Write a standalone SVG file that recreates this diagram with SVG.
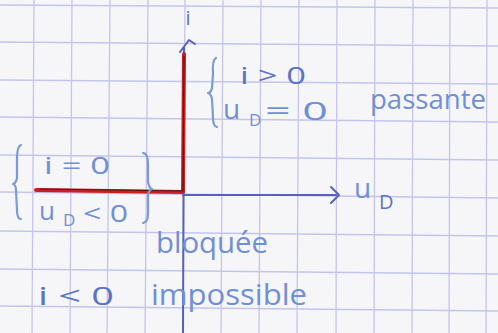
<svg xmlns="http://www.w3.org/2000/svg" width="498" height="333" viewBox="0 0 498 333">
  <style>
    .grid line { stroke: #c4c4ee; stroke-width: 1.3; }
    .pen { fill: #6f8fd6; font-family: "Open Sans", "Liberation Sans", sans-serif; }
    .pen2 { fill: #5a74c8; font-family: "Open Sans", "Liberation Sans", sans-serif; }
    .brace { fill: none; stroke: #7b9ad8; stroke-width: 2.2; stroke-linecap: round; stroke-linejoin: round; }
    .axis { fill: none; stroke: #5561bd; stroke-width: 2; stroke-linecap: round; stroke-linejoin: round; }
    .red { fill: none; stroke: #cc1f1f; stroke-width: 4; stroke-linecap: round; stroke-linejoin: round; }
    .redcore { fill: none; stroke: #5a1818; stroke-width: 1.2; stroke-linecap: round; stroke-linejoin: round; }
  </style>
  <rect x="0" y="0" width="498" height="333" fill="#f6f6f8"/>
  <g id="grid" class="grid">
    <line x1="0" y1="5" x2="498" y2="8"/>
    <line x1="0" y1="42" x2="498" y2="46"/>
    <line x1="0" y1="80" x2="498" y2="84"/>
    <line x1="0" y1="117" x2="498" y2="122"/>
    <line x1="0" y1="155" x2="498" y2="160"/>
    <line x1="0" y1="192" x2="498" y2="198"/>
    <line x1="0" y1="231" x2="498" y2="236"/>
    <line x1="0" y1="269" x2="498" y2="274"/>
    <line x1="0" y1="306" x2="498" y2="311"/>
    <line x1="34" y1="0" x2="32" y2="333"/>
    <line x1="72" y1="0" x2="70" y2="333"/>
    <line x1="110" y1="0" x2="107" y2="333"/>
    <line x1="148" y1="0" x2="145" y2="333"/>
    <line x1="185" y1="0" x2="183" y2="333"/>
    <line x1="223" y1="0" x2="221" y2="333"/>
    <line x1="261" y1="0" x2="259" y2="333"/>
    <line x1="299" y1="0" x2="297" y2="333"/>
    <line x1="337" y1="0" x2="336" y2="333"/>
    <line x1="375" y1="0" x2="374" y2="333"/>
    <line x1="413" y1="0" x2="412" y2="333"/>
    <line x1="450" y1="0" x2="449" y2="333"/>
    <line x1="487" y1="0" x2="486" y2="333"/>
  </g>
  <g id="connectors">
    <path class="axis" d="M184,48 L183,333"/>
    <path class="axis" d="M180,52 L189,40 L195,44"/>
    <path class="axis" d="M183,195 L336,195"/>
    <path class="axis" d="M331,187 L339,195 L331,203"/>
    <path class="red" d="M184,54 L183,192 L36,190"/>
    <path class="redcore" d="M184,56 L183,191 L40,189"/>
  </g>
  <g id="axis-i">
    <text class="pen2" x="188" y="25" font-size="20" text-anchor="middle">i</text>
  </g>
  <g id="axis-uD">
    <text class="pen" x="354" y="198" font-size="28">u</text>
    <text class="pen2" x="379" y="209" font-size="20">D</text>
  </g>
  <g id="passante">
    <path class="brace" d="M216,58 Q212,60 213,74 L212,88 Q211,93 208,93 Q211,94 212,99 L213,118 Q213,126 217,127"/>
    <text class="pen2" x="240" y="84" font-size="24" textLength="66" lengthAdjust="spacingAndGlyphs">i &gt; 0</text>
    <text class="pen" x="223" y="119" font-size="28">u</text>
    <text class="pen" x="249" y="126" font-size="17">D</text>
    <text class="pen" x="265" y="120" font-size="26" textLength="63" lengthAdjust="spacingAndGlyphs">= 0</text>
    <text class="pen" x="370" y="109" font-size="27" textLength="116" lengthAdjust="spacingAndGlyphs">passante</text>
  </g>
  <g id="bloquee">
    <path class="brace" d="M21,145 Q17,146 17,160 L17,178 Q16,183 13,184 Q16,185 16,190 L17,210 Q17,219 21,219"/>
    <path class="brace" d="M143,153 Q148,153 148,165 L148,182 Q149,188 152,189 Q149,190 148,195 L148,214 Q148,222 143,223"/>
    <text class="pen" x="44" y="174" font-size="24" textLength="66" lengthAdjust="spacingAndGlyphs">i = 0</text>
    <text class="pen" x="39" y="220" font-size="26">u</text>
    <text class="pen" x="63" y="226" font-size="17">D</text>
    <text class="pen" x="83" y="222" font-size="24" textLength="45" lengthAdjust="spacingAndGlyphs">&lt; 0</text>
    <text class="pen" x="156" y="253" font-size="30" textLength="112" lengthAdjust="spacingAndGlyphs">bloquée</text>
  </g>
  <g id="impossible">
    <text class="pen2" x="38" y="305" font-size="26" textLength="76" lengthAdjust="spacingAndGlyphs">i &lt; 0</text>
    <text class="pen" x="151" y="305" font-size="30" textLength="156" lengthAdjust="spacingAndGlyphs">impossible</text>
  </g>
</svg>
